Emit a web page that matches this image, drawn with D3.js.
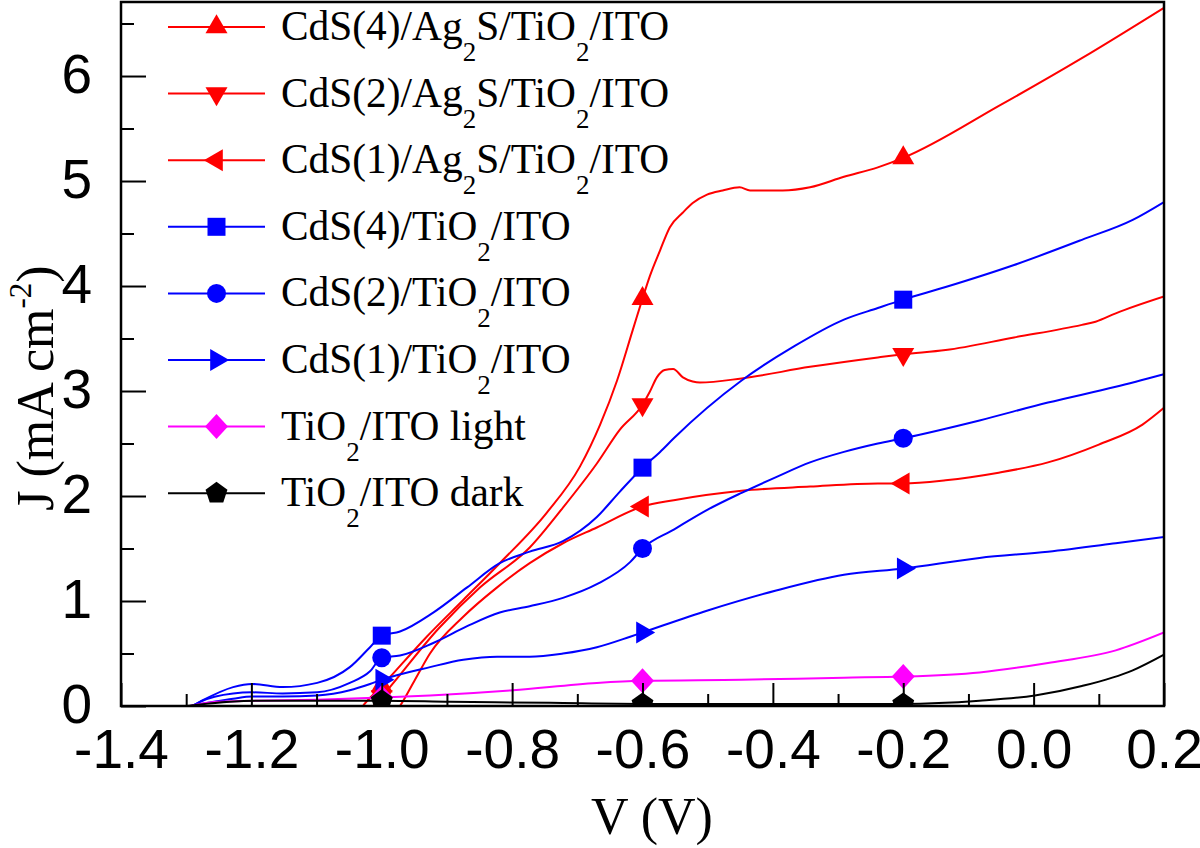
<!DOCTYPE html>
<html><head><meta charset="utf-8">
<script src="https://cdn.jsdelivr.net/npm/d3@7"></script>
<style>body{margin:0;background:#fff}svg{display:block}</style>
</head><body>
<svg id="chart" width="1200" height="848"></svg>
<script>
// ---------- data ----------
const seriesNames = [
  ["CdS(4)/Ag", "2", "S/TiO", "2", "/ITO"],
  ["CdS(2)/Ag", "2", "S/TiO", "2", "/ITO"],
  ["CdS(1)/Ag", "2", "S/TiO", "2", "/ITO"],
  ["CdS(4)/TiO", "2", "/ITO"],
  ["CdS(2)/TiO", "2", "/ITO"],
  ["CdS(1)/TiO", "2", "/ITO"],
  ["TiO", "2", "/ITO light"],
  ["TiO", "2", "/ITO dark"]
];
const seriesColors = ["#ff0000","#ff0000","#ff0000","#0000ff","#0000ff","#0000ff","#ff00ff","#000000"];
const seriesMarkers = ["triUp","triDown","triLeft","square","circle","triRight","diamond","pentagon"];

const vCdS4Ag = [-1.041,-1.029,-1.0,-0.931,-0.875,-0.819,-0.747,-0.696,-0.665,-0.639,-0.615,-0.6,-0.589,-0.573,-0.558,-0.538,-0.523,-0.501,-0.477,-0.451,-0.435,-0.385,-0.343,-0.291,-0.239,-0.2,-0.052,0.074,0.2];
const jCdS4Ag = [-0.10,0,0.19,0.66,1.01,1.36,1.84,2.28,2.68,3.10,3.58,3.88,4.09,4.34,4.56,4.70,4.79,4.87,4.91,4.94,4.91,4.91,4.94,5.04,5.13,5.22,5.72,6.17,6.65];

const vCdS2Ag = [-1.026,-1.013,-1.0,-0.911,-0.849,-0.773,-0.722,-0.670,-0.635,-0.6,-0.589,-0.578,-0.566,-0.553,-0.538,-0.523,-0.512,-0.448,-0.343,-0.239,-0.2,-0.135,-0.030,0.074,0.095,0.126,0.2];
const jCdS2Ag = [-0.10,0,0.09,0.75,1.13,1.51,1.89,2.31,2.63,2.87,2.99,3.13,3.20,3.21,3.13,3.09,3.08,3.12,3.23,3.32,3.35,3.39,3.51,3.63,3.66,3.74,3.90];

const vCdS1Ag = [-0.984,-0.972,-0.949,-0.926,-0.875,-0.823,-0.773,-0.722,-0.670,-0.6,-0.552,-0.448,-0.343,-0.239,-0.2,-0.135,-0.056,0.022,0.100,0.167,0.2];
const jCdS1Ag = [-0.10,0,0.25,0.50,0.85,1.13,1.36,1.55,1.70,1.90,1.96,2.05,2.09,2.12,2.12,2.15,2.22,2.32,2.49,2.68,2.84];

const vCdS4 = [-1.291,-1.279,-1.228,-1.199,-1.152,-1.099,-1.049,-1.018,-1.0,-0.972,-0.921,-0.869,-0.819,-0.773,-0.722,-0.670,-0.635,-0.6,-0.573,-0.552,-0.448,-0.369,-0.291,-0.239,-0.2,-0.135,-0.030,0.074,0.152,0.2];
const jCdS4 = [0,0.04,0.18,0.21,0.18,0.22,0.37,0.56,0.67,0.71,0.89,1.13,1.36,1.47,1.57,1.80,2.04,2.27,2.42,2.55,3.10,3.42,3.68,3.79,3.87,3.99,4.20,4.44,4.63,4.80];

const vCdS2 = [-1.291,-1.279,-1.228,-1.199,-1.152,-1.099,-1.049,-1.018,-1.0,-0.972,-0.921,-0.869,-0.819,-0.773,-0.722,-0.670,-0.619,-0.6,-0.552,-0.500,-0.448,-0.395,-0.343,-0.291,-0.239,-0.2,-0.083,0.022,0.126,0.2];
const jCdS2 = [0,0.04,0.12,0.13,0.12,0.13,0.22,0.33,0.46,0.48,0.60,0.76,0.89,0.95,1.03,1.16,1.37,1.50,1.68,1.87,2.03,2.18,2.32,2.42,2.50,2.55,2.72,2.89,3.04,3.16];

const vCdS1 = [-1.294,-1.228,-1.199,-1.152,-1.099,-1.049,-1.018,-1.0,-0.926,-0.875,-0.823,-0.773,-0.722,-0.670,-0.619,-0.6,-0.500,-0.395,-0.291,-0.2,-0.083,0.022,0.126,0.2];
const jCdS1 = [0,0.07,0.09,0.09,0.10,0.15,0.21,0.25,0.37,0.44,0.47,0.47,0.50,0.56,0.66,0.70,0.91,1.10,1.25,1.31,1.41,1.47,1.55,1.61];

const vLight = [-1.294,-1.253,-1.2,-1.1,-1.0,-0.926,-0.799,-0.670,-0.6,-0.448,-0.291,-0.2,-0.083,0.022,0.126,0.2];
const jLight = [0,0.04,0.05,0.06,0.08,0.10,0.15,0.22,0.24,0.25,0.27,0.28,0.32,0.41,0.53,0.70];

const vDark = [-1.299,-1.233,-1.187,-1.0,-0.895,-0.742,-0.6,-0.359,-0.2,-0.083,0.002,0.074,0.152,0.2];
const jDark = [0,0.04,0.05,0.05,0.04,0.03,0.02,0.02,0.02,0.05,0.10,0.19,0.34,0.49];

const seriesV = [vCdS4Ag, vCdS2Ag, vCdS1Ag, vCdS4, vCdS2, vCdS1, vLight, vDark];
const seriesJ = [jCdS4Ag, jCdS2Ag, jCdS1Ag, jCdS4, jCdS2, jCdS1, jLight, jDark];

const markerVoltages = [-1.0, -0.6, -0.2];
const xMajorTicks = [-1.4,-1.2,-1.0,-0.8,-0.6,-0.4,-0.2,0.0,0.2];
const xMinorTicks = [-1.3,-1.1,-0.9,-0.7,-0.5,-0.3,-0.1,0.1];
const yMajorTicks = [0,1,2,3,4,5,6];
const yMinorTicks = [0.5,1.5,2.5,3.5,4.5,5.5,6.5];

// ---------- layout ----------
const L = 121, R = 1164, T = 2, B = 706;
const svg = d3.select("#chart");
const x = d3.scaleLinear().domain([-1.4, 0.2]).range([L, R]);
const y = d3.scaleLinear().domain([0, 6.705]).range([B, T]);

svg.append("defs").append("clipPath").attr("id","plotclip")
  .append("rect").attr("x",L).attr("y",T).attr("width",R-L).attr("height",B-T);

function markerPath(type) {
  switch(type) {
    case "triUp": return "M0,-12.7L11,6.3L-11,6.3Z";
    case "triDown": return "M0,12.7L11,-6.3L-11,-6.3Z";
    case "triLeft": return "M-12.7,0L6.3,-11L6.3,11Z";
    case "triRight": return "M12.7,0L-6.3,-11L-6.3,11Z";
    case "square": return "M-9,-9H9V9H-9Z";
    case "circle": return "M9.5,0A9.5,9.5 0 1 1 -9.5,0A9.5,9.5 0 1 1 9.5,0Z";
    case "diamond": return "M0,-12.5L11.5,0L0,12.5L-11.5,0Z";
    case "pentagon": {
      const r = 11.5; let p = "";
      for (let i = 0; i < 5; i++) {
        const a = -Math.PI/2 + i*2*Math.PI/5;
        p += (i ? "L" : "M") + (r*Math.cos(a)).toFixed(2) + "," + (r*Math.sin(a)).toFixed(2);
      }
      return p + "Z";
    }
  }
}

// ---------- data lines ----------
const plot = svg.append("g").attr("clip-path","url(#plotclip)");
const line = d3.line().x(d => x(d[0])).y(d => y(d[1])).curve(d3.curveMonotoneX);

seriesV.forEach((vs, i) => {
  const pts = vs.map((v, k) => [v, seriesJ[i][k]]);
  plot.append("path").datum(pts)
    .attr("d", line).attr("fill","none")
    .attr("stroke", seriesColors[i]).attr("stroke-width", 2).attr("stroke-linejoin","round");
});
seriesV.forEach((vs, i) => {
  const pts = vs.map((v, k) => [v, seriesJ[i][k]])
    .filter(p => markerVoltages.some(m => Math.abs(m - p[0]) < 1e-6) && p[1] >= 0);
  plot.selectAll(null).data(pts).enter().append("path")
    .attr("d", markerPath(seriesMarkers[i]))
    .attr("transform", d => `translate(${x(d[0])},${y(d[1])})`)
    .attr("fill", seriesColors[i]);
});

// ---------- axes ----------
const fmt = d => d.toFixed(1);
const sans = "'Liberation Sans', Arial, sans-serif";
const gx = svg.append("g").attr("transform", `translate(0,${B})`)
  .call(d3.axisBottom(x).tickValues(xMajorTicks).tickSize(-23).tickFormat(fmt));
gx.select(".domain").remove();
gx.selectAll(".tick line").attr("stroke","#000").attr("stroke-width",2);
gx.selectAll("text").attr("y", 62).attr("dy", 0)
  .attr("font-family", sans).attr("font-size", 55).attr("fill","#000");
const gxm = svg.append("g").attr("transform", `translate(0,${B})`)
  .call(d3.axisBottom(x).tickValues(xMinorTicks).tickSize(-12).tickFormat(""));
gxm.select(".domain").remove();
gxm.selectAll(".tick line").attr("stroke","#000").attr("stroke-width",2);

const gy = svg.append("g").attr("transform", `translate(${L},0)`)
  .call(d3.axisLeft(y).tickValues(yMajorTicks).tickSize(-25).tickFormat(d3.format("d")));
gy.select(".domain").remove();
gy.selectAll(".tick line").attr("stroke","#000").attr("stroke-width",2);
gy.selectAll("text").attr("x", -29).attr("dy", 0).attr("y", 16)
  .attr("font-family", sans).attr("font-size", 55).attr("fill","#000");
const gym = svg.append("g").attr("transform", `translate(${L},0)`)
  .call(d3.axisLeft(y).tickValues(yMinorTicks).tickSize(-13).tickFormat(""));
gym.select(".domain").remove();
gym.selectAll(".tick line").attr("stroke","#000").attr("stroke-width",2);

// frame
svg.append("rect").attr("x",L).attr("y",T).attr("width",R-L).attr("height",B-T)
  .attr("fill","none").attr("stroke","#000").attr("stroke-width",2.5);

// axis titles
const serif = "'Liberation Serif', 'Times New Roman', serif";
svg.append("text").attr("x", 652).attr("y", 834).attr("text-anchor","middle")
  .attr("font-family", serif).attr("font-size", 52).text("V (V)");
const yt = svg.append("text").attr("transform","translate(53,388) rotate(-90)")
  .attr("text-anchor","middle").attr("font-family", serif).attr("font-size", 52);
yt.append("tspan").text("J (mA cm");
yt.append("tspan").attr("font-size", 31).attr("dy", -22).text("-2");
yt.append("tspan").attr("dy", 22).text(")");

// ---------- legend ----------
const legend = svg.append("g");
seriesNames.forEach((parts, i) => {
  const cy = 27 + i * 66.6;
  const g = legend.append("g");
  g.append("line").attr("x1",168).attr("x2",265).attr("y1",cy).attr("y2",cy)
    .attr("stroke", seriesColors[i]).attr("stroke-width", 2);
  g.append("path").attr("d", markerPath(seriesMarkers[i]))
    .attr("transform", `translate(216.5,${cy})`).attr("fill", seriesColors[i]);
  const t = g.append("text").attr("x", 281).attr("y", cy + 13)
    .attr("font-family", serif).attr("font-size", 41.4).attr("fill","#000");
  let down = false;
  parts.forEach((p, k) => {
    const isSub = k % 2 === 1;
    const ts = t.append("tspan").text(p);
    if (isSub) { ts.attr("font-size", 27).attr("dy", 21); down = true; }
    else if (down) { ts.attr("dy", -21); down = false; }
  });
});
</script>
</body></html>
